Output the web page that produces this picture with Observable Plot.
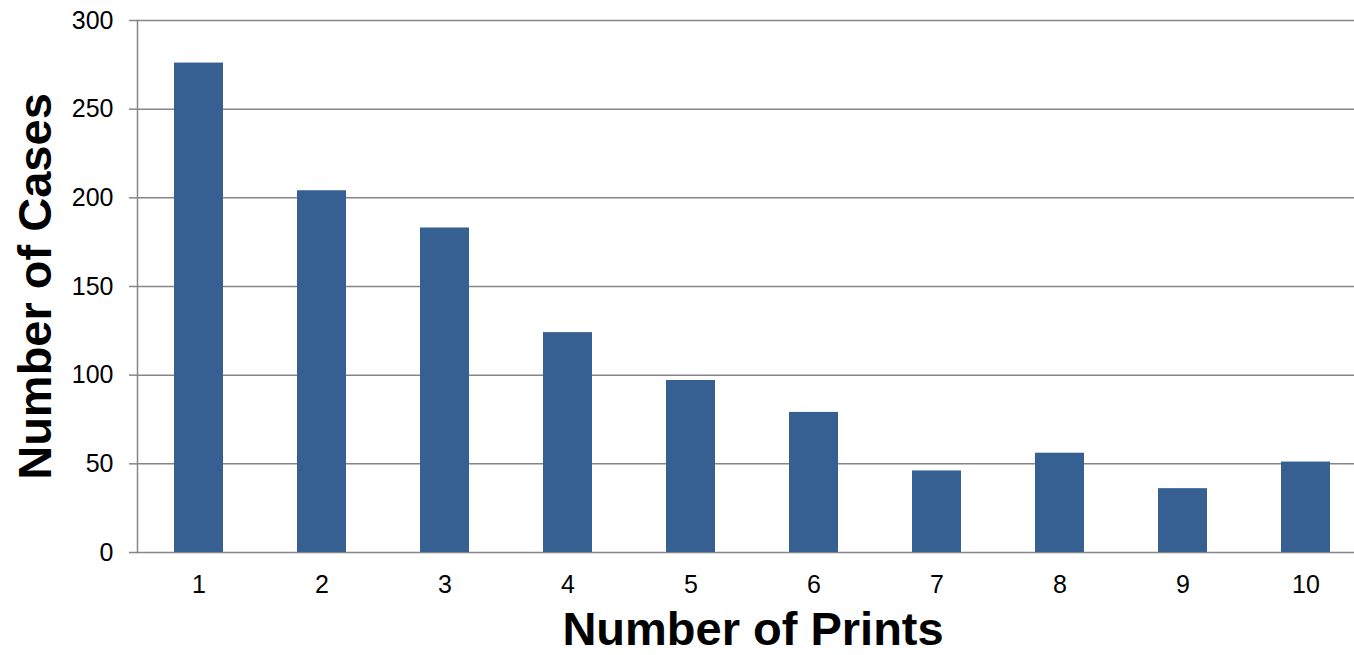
<!DOCTYPE html>
<html><head><meta charset="utf-8">
<script src="https://cdn.jsdelivr.net/npm/d3@7"></script>
<script src="https://cdn.jsdelivr.net/npm/@observablehq/plot@0.6"></script>
<style>html,body{margin:0;padding:0;overflow:hidden;background:#fff} svg{max-width:none !important;display:block}</style>
</head><body><div id="chart"></div><script>
const prints = ["1","2","3","4","5","6","7","8","9","10"];
const cases = [276, 204, 183, 124, 97, 79, 46, 56, 36, 51];
const yTicks = [0, 50, 100, 150, 200, 250, 300];
const xTitle = "Number of Prints";
const yTitle = "Number of Cases";

const data = prints.map((p, i) => ({prints: p, cases: cases[i]}));
const grey = "#868686";

const chart = Plot.plot({
  width: 1368, height: 655,
  marginTop: 20, marginBottom: 103, marginLeft: 137, marginRight: 0,
  style: {fontFamily: "'Liberation Sans', Arial, sans-serif", background: "#fff", color: "#000"},
  x: {domain: prints, paddingInner: 0.6, paddingOuter: 0.3, label: null},
  y: {domain: [0, 300], label: null},
  marks: [
    Plot.gridY(yTicks, {stroke: grey, strokeOpacity: 1, strokeWidth: 1.5}),
    Plot.frame({anchor: "left", stroke: grey, strokeWidth: 1.5}),
    Plot.barY(data, {x: "prints", y: "cases", fill: "#366092"}),
    Plot.axisY(yTicks, {tickSize: 8, tickPadding: 16, fontSize: 25, stroke: grey, strokeWidth: 1.5, fill: "#000", label: null}),
    Plot.axisX({tickSize: 0, tickPadding: 23, fontSize: 25, fill: "#000", label: null}),
    Plot.text([xTitle], {frameAnchor: "bottom", dy: 92, text: d => d, fontSize: 47, fontWeight: "bold", fill: "#000"}),
    Plot.text([yTitle], {frameAnchor: "left", textAnchor: "middle", dx: -102, rotate: -90, text: d => d, fontSize: 47, fontWeight: "bold", fill: "#000"})
  ]
});
document.getElementById("chart").appendChild(chart);
</script></body></html>
